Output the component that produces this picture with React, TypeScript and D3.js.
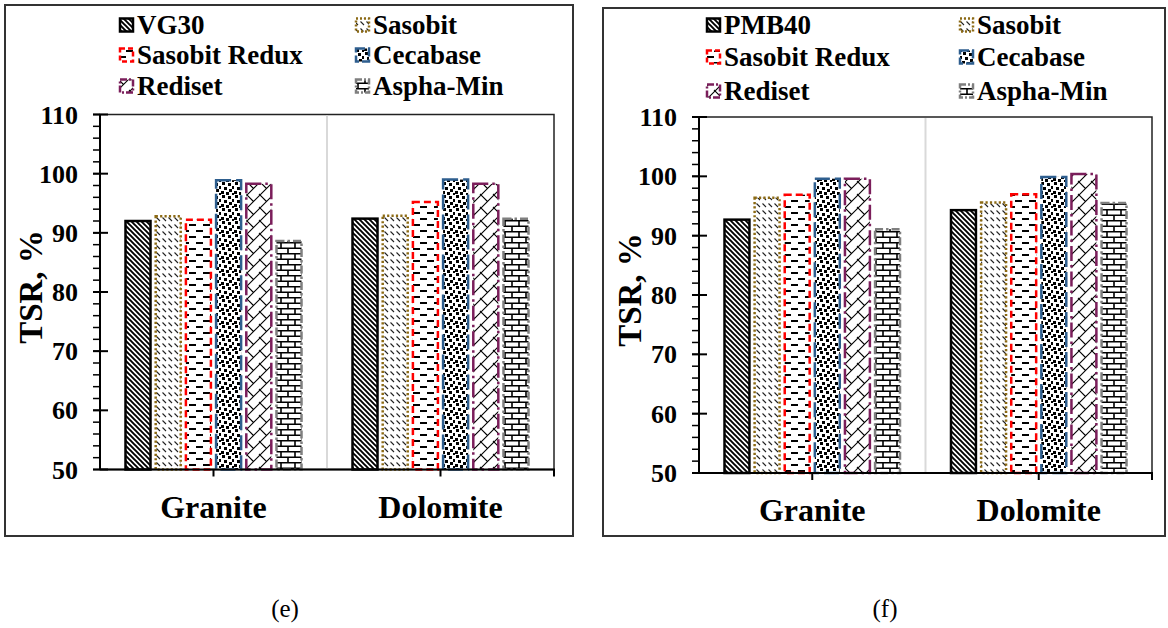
import React from "react";
import * as d3 from "d3";

const categories = ["Granite", "Dolomite"];
const seriesE = ["VG30", "Sasobit", "Sasobit Redux", "Cecabase", "Rediset", "Aspha-Min"];
const seriesF = ["PMB40", "Sasobit", "Sasobit Redux", "Cecabase", "Rediset", "Aspha-Min"];
const graniteE = [92.0, 92.8, 92.2, 98.9, 98.3, 88.6];
const dolomiteE = [92.4, 92.9, 95.2, 99.0, 98.3, 92.4];
const graniteF = [92.7, 96.4, 96.9, 99.6, 99.6, 91.1];
const dolomiteF = [94.3, 95.6, 97.0, 99.9, 100.4, 95.5];
const yTicks = [50, 60, 70, 80, 90, 100, 110];
const yDomain = [50, 110];
const yTitle = "TSR, %";

const FONT = "'Liberation Serif', 'Times New Roman', serif";

type Style = { pat: string; stroke: string; dash: string; sdash: string };
const styles: Style[] = [
  { pat: "pDiag", stroke: "#000000", dash: "none", sdash: "none" },
  { pat: "pDashDiag", stroke: "#8C6A14", dash: "2.2 2.2", sdash: "2 2" },
  { pat: "pDashHor", stroke: "#FF0000", dash: "7 4", sdash: "5 3" },
  { pat: "pConfetti", stroke: "#2E5E8E", dash: "15 5", sdash: "9 3" },
  { pat: "pDiagBrick", stroke: "#7B1E5B", dash: "15 4 2.5 4", sdash: "7 2 2 2" },
  { pat: "pBrick", stroke: "#7F7F7F", dash: "8 3 2.5 3", sdash: "6 2 2 2" },
];

type Panel = {
  id: string;
  series: string[];
  values: number[][];
  outer: [number, number, number, number];
  plot: { x0: number; x1: number; y0: number; y1: number };
  legend: { c1s: number; c1t: number; c2s: number; c2t: number; rows: number[] };
  label: string;
  labelX: number;
};

const panels: Panel[] = [
  {
    id: "e",
    series: seriesE,
    values: [graniteE, dolomiteE],
    outer: [5, 5, 568, 531],
    plot: { x0: 100, x1: 554, y0: 114.5, y1: 469.5 },
    legend: { c1s: 120, c1t: 137, c2s: 356, c2t: 373, rows: [25, 55, 86] },
    label: "(e)",
    labelX: 285,
  },
  {
    id: "f",
    series: seriesF,
    values: [graniteF, dolomiteF],
    outer: [603, 8, 562, 528],
    plot: { x0: 699, x1: 1152, y0: 117, y1: 473 },
    legend: { c1s: 707, c1t: 724, c2s: 960, c2t: 977, rows: [25, 57, 91] },
    label: "(f)",
    labelX: 885,
  },
];

function Patterns() {
  const confetti = [
    [1, 0], [7, 1], [11, 4], [3, 5], [8, 7], [0, 9], [5, 10], [11, 11],
  ];
  return (
    <defs>
      <pattern id="pDiag" patternUnits="userSpaceOnUse" width={5} height={5}>
        <rect width={5} height={5} fill="#fff" />
        <path d="M-1,-1 L6,6 M-1,4 L1,6 M4,-1 L6,1" stroke="#000" strokeWidth={1.9} />
      </pattern>
      <pattern id="pDashDiag" patternUnits="userSpaceOnUse" width={6} height={7}>
        <rect width={6} height={7} fill="#fff" />
        <path d="M0.5,0.5 L4,4" stroke="#222" strokeWidth={1.1} />
      </pattern>
      <pattern id="pDashHor" patternUnits="userSpaceOnUse" width={14} height={12}>
        <rect width={14} height={12} fill="#fff" />
        <path d="M0,3 L7,3 M7,9 L14,9" stroke="#000" strokeWidth={1.9} />
      </pattern>
      <pattern id="pConfetti" patternUnits="userSpaceOnUse" width={13} height={13}>
        <rect width={13} height={13} fill="#fff" />
        {confetti.map(([x, y], i) => (
          <rect key={i} x={x} y={y} width={3} height={3} fill="#000" />
        ))}
      </pattern>
      <pattern id="pDiagBrick" patternUnits="userSpaceOnUse" width={13} height={13}>
        <rect width={13} height={13} fill="#fff" />
        <path d="M-1,14 L14,-1 M0,0 L6.5,6.5 M12,12 L14,14" stroke="#000" strokeWidth={1.1} />
      </pattern>
      <pattern id="pBrick" patternUnits="userSpaceOnUse" width={14} height={11}>
        <rect width={14} height={11} fill="#fff" />
        <path d="M0,0.8 L14,0.8 M0,6.3 L14,6.3 M1,0.8 L1,6.3 M8,6.3 L8,11.8" stroke="#000" strokeWidth={1.6} />
      </pattern>
    </defs>
  );
}

function ChartPanel({ p }: { p: Panel }) {
  const { x0, x1, y0, y1 } = p.plot;
  const y = d3.scaleLinear().domain(yDomain).range([y1, y0]);
  const x = d3.scaleBand<string>().domain(categories).range([x0, x1]).padding(0);
  const bw = x.bandwidth();
  const inner = d3
    .scaleBand<string>()
    .domain(p.series)
    .range([25.5, bw - 25.5])
    .paddingInner(0.172)
    .paddingOuter(0);
  const minor = d3.range(yDomain[0], yDomain[1] + 0.01, 2);
  const [ox, oy, ow, oh] = p.outer;
  const lg = p.legend;
  return (
    <g>
      <rect x={ox} y={oy} width={ow} height={oh} fill="#fff" stroke="#333" strokeWidth={2} />
      <rect x={x0} y={y0} width={x1 - x0} height={y1 - y0} fill="none" stroke="#222" strokeWidth={1.5} />
      {categories.slice(1).map((c) => (
        <line key={c} x1={x(c)!} x2={x(c)!} y1={y0 + 1} y2={y1} stroke="#D9D9D9" strokeWidth={2} />
      ))}
      {categories.map((c, ci) =>
        p.series.map((s, si) => {
          const v = p.values[ci][si];
          const st = styles[si];
          const bx = x(c)! + inner(s)!;
          return (
            <rect
              key={c + s}
              x={bx}
              y={y(v)}
              width={inner.bandwidth()}
              height={y(yDomain[0]) - y(v)}
              fill={`url(#${st.pat})`}
              stroke={st.stroke}
              strokeWidth={2.5}
              strokeDasharray={st.dash}
            />
          );
        })
      )}
      <line x1={x0} x2={x0} y1={y0} y2={y1} stroke="#000" strokeWidth={2} />
      {minor.map((t) => (
        <line key={"m" + t} x1={x0 - 7} x2={x0} y1={y(t)} y2={y(t)} stroke="#000" strokeWidth={1.5} />
      ))}
      {yTicks.map((t) => (
        <g key={"t" + t}>
          <line x1={x0 - 7} x2={x0 + 8} y1={y(t)} y2={y(t)} stroke="#000" strokeWidth={2} />
          <text
            x={x0 - 22}
            y={y(t)}
            dy="0.35em"
            textAnchor="end"
            fontFamily={FONT}
            fontWeight="bold"
            fontSize={26}
          >
            {t}
          </text>
        </g>
      ))}
      <text
        transform={`translate(${x0 - 70},${(y0 + y1) / 2 - 5}) rotate(-90)`}
        textAnchor="middle"
        dy="0.35em"
        fontFamily={FONT}
        fontWeight="bold"
        fontSize={33}
      >
        {yTitle}
      </text>
      <line x1={x0} x2={x1 + 1} y1={y1} y2={y1} stroke="#000" strokeWidth={2} />
      {[...categories.map((c) => x(c)! + bw / 2), x1].map((tx, i) => (
        <line key={"xt" + i} x1={tx} x2={tx} y1={y1} y2={y1 + 7} stroke="#000" strokeWidth={2} />
      ))}
      {categories.map((c) => (
        <text
          key={"xl" + c}
          x={x(c)! + bw / 2}
          y={y1 + 48}
          textAnchor="middle"
          fontFamily={FONT}
          fontWeight="bold"
          fontSize={32}
        >
          {c}
        </text>
      ))}
      {p.series.map((s, i) => {
        const col = i % 2;
        const row = Math.floor(i / 2);
        const sx = col === 0 ? lg.c1s : lg.c2s;
        const tx = col === 0 ? lg.c1t : lg.c2t;
        const cy = lg.rows[row];
        const st = styles[i];
        return (
          <g key={"lg" + s}>
            <rect
              x={sx}
              y={cy - 6.5}
              width={13}
              height={13}
              fill={`url(#${st.pat})`}
              stroke={st.stroke}
              strokeWidth={2.5}
              strokeDasharray={st.sdash}
            />
            <text x={tx} y={cy} dy="0.35em" fontFamily={FONT} fontWeight="bold" fontSize={27}>
              {s}
            </text>
          </g>
        );
      })}
      <text x={p.labelX} y={617} textAnchor="middle" fontFamily={FONT} fontSize={25}>
        {p.label}
      </text>
    </g>
  );
}

export default function App() {
  return (
    <svg
      width={1168}
      height={628}
      viewBox="0 0 1168 628"
      style={{ position: "absolute", left: 0, top: 0, background: "#fff" }}
    >
      <Patterns />
      <rect width={1168} height={628} fill="#fff" />
      {panels.map((p) => (
        <ChartPanel key={p.id} p={p} />
      ))}
    </svg>
  );
}
